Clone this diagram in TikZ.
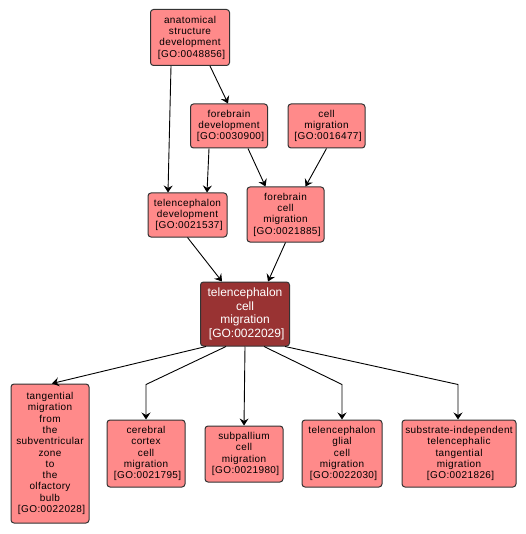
\documentclass[tikz,border=0pt]{standalone}
\usepackage{fontspec}
\setmainfont{Liberation Sans}
\newfontfamily\gofont[LetterSpace=4]{Liberation Sans}
\usepackage{xcolor}
\usetikzlibrary{arrows.meta, positioning, calc}

\definecolor{termfill}{HTML}{FF8A8A}
\definecolor{focusfill}{HTML}{993333}
\definecolor{termline}{HTML}{333333}

\begin{document}
\begin{tikzpicture}[
  x=1pt, y=-1pt,
  term/.style={rectangle, rounded corners=3pt, draw=termline, fill=termfill,
               line width=1pt, align=center, inner sep=0pt,
               font=\gofont\fontsize{10}{11.3}\selectfont},
  focus/.style={term, fill=focusfill, text=white,
                font=\fontsize{12}{13.7}\selectfont},
  arr/.style={-{Stealth[length=7pt, width=9pt, inset=2.5pt]}, line width=0.9pt},
]
\useasboundingbox (0,0) rectangle (525,534);

%% Upper terms
\node[term, minimum width=79pt, minimum height=56pt] (anat) at (190,37.5)
      {anatomical\\ structure\\ development\\{} [GO:0048856]};
\node[term, minimum width=77pt, minimum height=44pt] (fbdev) at (229,126)
      {forebrain\\ development\\{} [GO:0030900]};
\node[term, minimum width=77pt, minimum height=44pt] (cellmig) at (326.5,126)
      {cell\\ migration\\{} [GO:0016477]};
\node[term, minimum width=79pt, minimum height=44pt] (teldev) at (187.5,215)
      {telencephalon\\ development\\{} [GO:0021537]};
\node[term, minimum width=77pt, minimum height=55pt] (fbmig) at (285.5,214.5)
      {forebrain\\ cell\\ migration\\{} [GO:0021885]};

%% Focus term
\node[focus, minimum width=89pt, minimum height=64pt] (telmig) at (245,314)
      {telencephalon\\ cell\\ migration\\{} [GO:0022029]};

%% Lower terms
\node[term, minimum width=78pt, minimum height=139pt] (tangmig) at (50,453.5)
      {tangential\\ migration\\ from\\ the\\ subventricular\\ zone\\ to\\ the\\
       olfactory\\ bulb\\{} [GO:0022028]};
\node[term, minimum width=78pt, minimum height=67pt] (cortmig) at (146,453.5)
      {cerebral\\ cortex\\ cell\\ migration\\{} [GO:0021795]};
\node[term, minimum width=78pt, minimum height=56pt] (subpal) at (244,454)
      {subpallium\\ cell\\ migration\\{} [GO:0021980]};
\node[term, minimum width=80pt, minimum height=67pt] (glialmig) at (342,453.5)
      {telencephalon\\ glial\\ cell\\ migration\\{} [GO:0022030]};
\node[term, minimum width=114pt, minimum height=67pt] (subind) at (459,453.5)
      {substrate-independent\\ telencephalic\\ tangential\\ migration\\{} [GO:0021826]};

%% Edges above the focus term
\draw[arr] ([xshift=-19pt]anat.south) -- ([xshift=-19.5pt]teldev.north);
\draw[arr] ([xshift=20pt]anat.south) -- ([xshift=-1pt]fbdev.north);
\draw[arr] ([xshift=-20pt]fbdev.south) -- ([xshift=19.5pt]teldev.north);
\draw[arr] ([xshift=19pt]fbdev.south) -- ([xshift=-20pt]fbmig.north);
\draw[arr] (cellmig.south) -- ([xshift=20pt]fbmig.north);
\draw[arr] (teldev.south) -- ([xshift=-23pt]telmig.north);
\draw[arr] (fbmig.south) -- ([xshift=23pt]telmig.north);

%% Edges below the focus term
\draw[arr] ([xshift=-39pt]telmig.south) -- ([xshift=2pt]tangmig.north);
\draw[arr] ([xshift=-19pt]telmig.south) -- ([yshift=35pt]cortmig.north) -- (cortmig.north);
\draw[arr] (telmig.south) -- (subpal.north);
\draw[arr] ([xshift=19pt]telmig.south) -- ([yshift=35pt]glialmig.north) -- (glialmig.north);
\draw[arr] ([xshift=40pt]telmig.south) -- ([xshift=-1pt, yshift=35pt]subind.north)
           -- ([xshift=-1pt]subind.north);

\end{tikzpicture}
\end{document}
